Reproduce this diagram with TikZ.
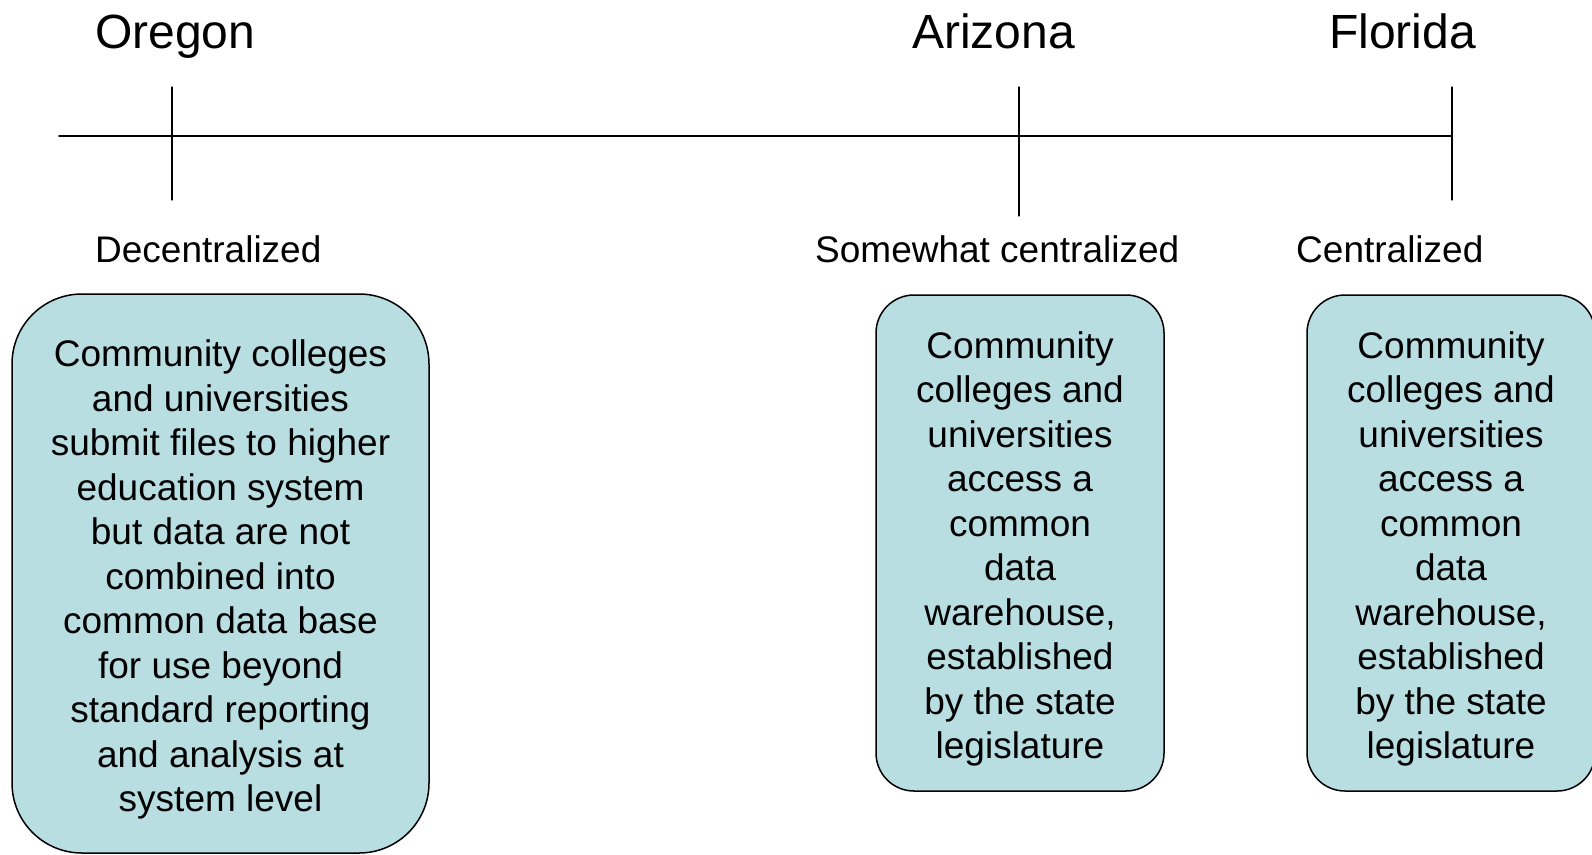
\documentclass[tikz,border=0pt]{standalone}
\usepackage{fontspec}
\setmainfont{Liberation Sans}
\usepackage{tkz-euclide}
\definecolor{boxfill}{RGB}{185,222,226}
\newcommand{\topgap}{\rule{0pt}{39pt}}
\tikzset{
	statename/.style={inner sep=0pt, anchor=base west, font=\fontsize{48}{58}\selectfont},
	levelname/.style={inner sep=0pt, anchor=base west, font=\fontsize{37}{44.5}\selectfont},
	infobox/.style={draw, line width=1.5pt, fill=boxfill, align=center, inner sep=0pt,
		font=\fontsize{37}{44.5}\selectfont},
}

\begin{document}
\begin{tikzpicture}[x=1pt,y=-1pt]
		\useasboundingbox (0,0) rectangle (1592,854);
		% timeline and ticks
		\tkzDefPoint(59,136){l_{1}}\tkzDefPoint(1452,136){l_{2}}
		\tkzDefPoint(172,87){o_{1}}\tkzDefPoint(172,200){o_{2}}
		\tkzDefPoint(1019,87){a_{1}}\tkzDefPoint(1019,216){a_{2}}
		\tkzDefPoint(1452,87){f_{1}}\tkzDefPoint(1452,200){f_{2}}
		\tkzDrawSegments[line width=1.6pt](l_{1},l_{2})
		\tkzDrawSegments[line width=1.3pt](o_{1},o_{2} a_{1},a_{2} f_{1},f_{2})
		% states
		\node[statename] (oregon) at (95,48) {Oregon};
		\node[statename] (arizona) at (912,48) {Arizona};
		\node[statename] (florida) at (1329,48) {Florida};
		\node[levelname] (decent) at (95,262) {Decentralized};
		\node[levelname] (somewhat) at (815,262) {Somewhat centralized};
		\node[levelname] (cent) at (1296,262) {Centralized};
		% boxes
		\node[infobox, rounded corners=70pt, minimum width=417pt, minimum height=559pt]
			(oregonbox) at (220.5,573.5) {\topgap Community colleges\\and universities\\submit files to higher\\education system\\but data are not\\combined into\\common data base\\for use beyond\\standard reporting\\and analysis at\\system level};
		\node[infobox, rounded corners=38pt, minimum width=288pt, minimum height=496pt]
			(arizonabox) at (1020,543) {\topgap Community\\colleges and\\universities\\access a\\common\\data\\warehouse,\\established\\by the state\\legislature};
		\node[infobox, rounded corners=38pt, minimum width=288pt, minimum height=496pt]
			(floridabox) at (1451,543) {\topgap Community\\colleges and\\universities\\access a\\common\\data\\warehouse,\\established\\by the state\\legislature};
	\end{tikzpicture}
\end{document}
